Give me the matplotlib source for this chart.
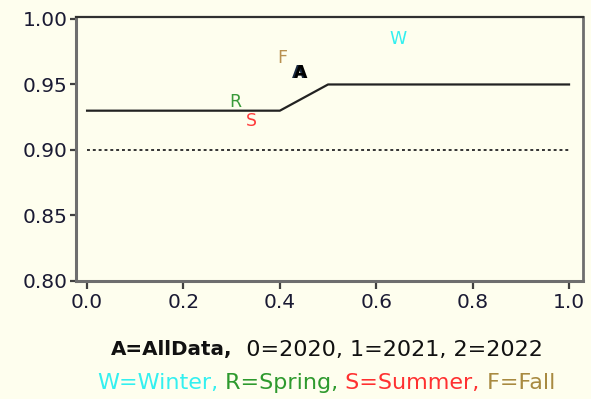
import matplotlib
matplotlib.use("Agg")
import matplotlib.pyplot as plt

# Step curve for all data
curve_x = [0.0, 0.4, 0.5, 1.0]
curve_y = [0.93, 0.93, 0.95, 0.95]

# Reference level
ref_x = [0.0, 1.0]
ref_y = [0.90, 0.90]

# Seasonal / overall point labels
labels = ["W", "R", "S", "F", "A", "A"]
label_x = [0.645, 0.307, 0.340, 0.405, 0.440, 0.443]
label_y = [0.985, 0.937, 0.922, 0.970, 0.959, 0.959]
label_colors = ["#33F0F0", "#3A9A3A", "#FF3B3B", "#B89050", "#1A2A40", "#000000"]

xticks = [0.0, 0.2, 0.4, 0.6, 0.8, 1.0]
yticks = [0.80, 0.85, 0.90, 0.95, 1.00]

caption1 = ["A=AllData,", "  0=2020, 1=2021, 2=2022"]
caption1_colors = ["#111111", "#111111"]
caption1_weights = ["bold", "normal"]
caption1_sizes = [14.3, 16]
caption2 = ["W=Winter,", " R=Spring,", " S=Summer,", " F=Fall"]
caption2_colors = ["#33F0F0", "#2E9A2E", "#FF3030", "#A88A40"]

bg = "#FEFEEE"
plt.rcParams["font.family"] = ["DejaVu Sans"]

fig = plt.figure(figsize=(5.91, 3.99), dpi=100, facecolor=bg)
ax = fig.add_axes([76 / 591, 1 - 281 / 399, (583 - 76) / 591, (281 - 17) / 399])
ax.set_facecolor(bg)

ax.plot(curve_x, curve_y, color="#222222", lw=1.6)
ax.plot(ref_x, ref_y, color="#333333", lw=1.4, ls=(0, (1.5, 1.5)))

for t, x, y, c in zip(labels, label_x, label_y, label_colors):
    ax.text(x, y, t, color=c, fontsize=12.5, ha="center", va="center",
            fontweight="bold" if t == "A" else "normal")

ax.set_xlim(-0.023, 1.029)
ax.set_ylim(0.80, 1.0015)
ax.set_xticks(xticks)
ax.set_xticklabels([f"{v:.1f}" for v in xticks])
ax.set_yticks(yticks)
ax.set_yticklabels([f"{v:.2f}" for v in yticks])
ax.tick_params(axis="both", labelsize=14.5, color="#404040", labelcolor="#1a1a33",
               length=4, width=1.6)
ax.tick_params(axis="x", pad=3, length=6)
ax.tick_params(axis="y", pad=2)

# Frame: grey left/right/bottom, dark top
for side in ["left", "bottom"]:
    ax.spines[side].set_color("#6E6E6E")
    ax.spines[side].set_linewidth(2.2)
ax.spines["right"].set_color("#6E6E6E")
ax.spines["right"].set_linewidth(2.0)
ax.spines["top"].set_color("#303030")
ax.spines["top"].set_linewidth(1.6)

fig.canvas.draw()
r = fig.canvas.get_renderer()


def row(parts, cols, wts, sizes, ycen, xcen):
    texts = []
    for p, c, w, s in zip(parts, cols, wts, sizes):
        texts.append(fig.text(0, ycen, p, fontsize=s, color=c, fontweight=w,
                              ha="left", va="center_baseline"))
    fig.canvas.draw()
    widths = [t.get_window_extent(r).width for t in texts]
    x = xcen * fig.bbox.width - sum(widths) / 2
    for t, wd in zip(texts, widths):
        t.set_x(x / fig.bbox.width)
        x += wd


row(caption1, caption1_colors, caption1_weights, caption1_sizes,
    1 - 348 / 399, 327 / 591)
row(caption2, caption2_colors, ["normal"] * 4, [16] * 4,
    1 - 381 / 399, 326 / 591)

fig.savefig("out.png", dpi=100, facecolor=bg)
